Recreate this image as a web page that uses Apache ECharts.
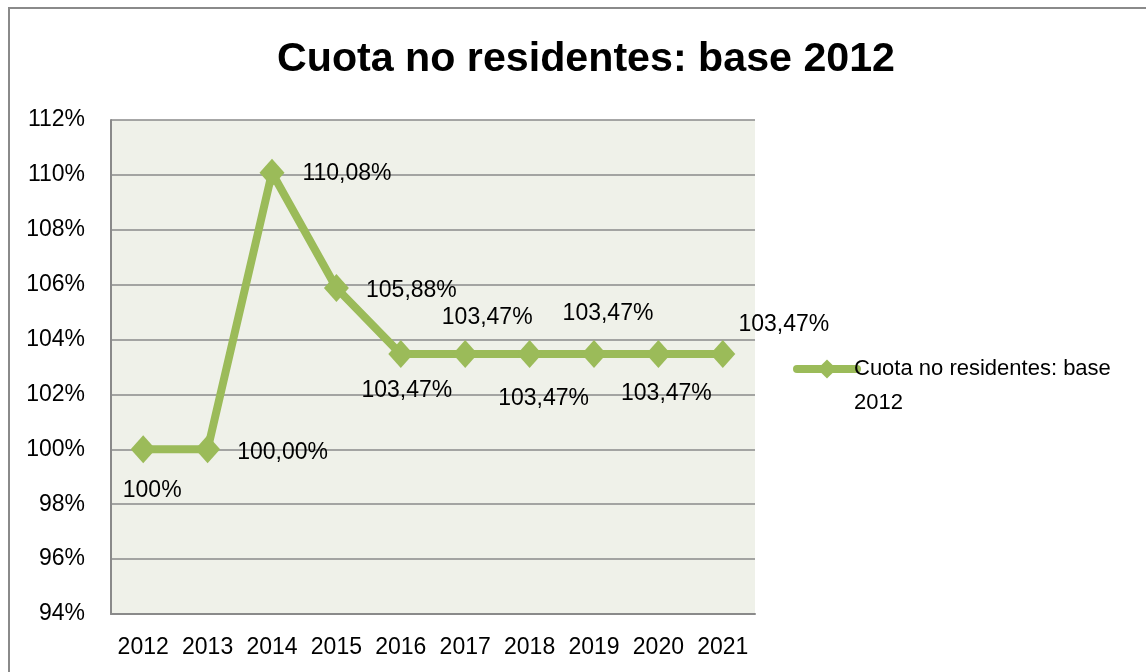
<!DOCTYPE html>
<html>
<head>
<meta charset="utf-8">
<script src="https://cdn.jsdelivr.net/npm/echarts@6/dist/echarts.min.js"></script>
<style>
html,body{margin:0;padding:0;background:#fff;}
#chart{width:1146px;height:672px;}
</style>
</head>
<body>
<div id="chart"></div>
<script>
const titleText = 'Cuota no residentes: base 2012';
const seriesName = 'Cuota no residentes: base 2012';
const legendLine1 = 'Cuota no residentes: base';
const legendLine2 = '2012';
const years = ['2012','2013','2014','2015','2016','2017','2018','2019','2020','2021'];
const values = [100, 100, 110.08, 105.88, 103.47, 103.47, 103.47, 103.47, 103.47, 103.47];
const labelTexts = ['100%','100,00%','110,08%','105,88%','103,47%','103,47%','103,47%','103,47%','103,47%','103,47%'];
const yTickMin = 94, yTickMax = 112, yTickStep = 2;

// label placement offsets (style only)
const labelOffsets = [[9,41],[75,3],[75,1],[75,3],[6,37],[22,-36],[14,45],[14,-40],[8,40],[61,-29]];

const FONT = '"Liberation Sans", Arial, sans-serif';
const GREEN = '#9bbb59';

const chart = echarts.init(document.getElementById('chart'));
chart.setOption({
  animation: false,
  backgroundColor: '#ffffff',
  textStyle: { fontFamily: FONT },
  graphic: [{
    type: 'rect',
    shape: { x: 9, y: 8, width: 1200, height: 720 },
    style: { fill: 'none', stroke: '#8a8a8a', lineWidth: 2 },
    silent: true
  }, {
    type: 'text',
    left: 854, top: 392,
    style: { text: legendLine2, fontFamily: FONT, fontSize: 22, fill: '#000' },
    silent: true
  }],
  title: {
    text: titleText,
    left: 581, top: 34,
    textAlign: 'center',
    textStyle: { fontFamily: FONT, fontSize: 41.2, fontWeight: 'bold', color: '#000' }
  },
  legend: {
    left: 788, top: 352,
    orient: 'vertical',
    itemWidth: 60, itemHeight: 24, itemGap: 0,
    data: [seriesName],
    lineStyle: { width: 8, cap: 'round', color: GREEN },
    formatter: function () { return legendLine1; },
    textStyle: { fontFamily: FONT, fontSize: 22, color: '#000', lineHeight: 24, padding: [0,0,0,-8] }
  },
  grid: {
    left: 111, top: 120, width: 644, height: 494,
    show: true, backgroundColor: '#eff1e9', borderWidth: 0, containLabel: false
  },
  xAxis: {
    type: 'category',
    data: years,
    boundaryGap: true,
    axisLine: { show: true, lineStyle: { color: '#8a8a8a', width: 2 } },
    axisTick: { show: false },
    axisLabel: { interval: 0, margin: 22, fontSize: 23, fontFamily: FONT, color: '#000' },
    splitLine: { show: false }
  },
  yAxis: {
    type: 'value',
    min: yTickMin, max: yTickMax, interval: yTickStep,
    axisLine: { show: true, lineStyle: { color: '#8a8a8a', width: 2 } },
    axisTick: { show: false },
    axisLabel: { margin: 26, fontSize: 23, fontFamily: FONT, color: '#000', formatter: v => v + '%' },
    splitLine: { show: true, lineStyle: { color: '#8a8a8a', width: 1.5 } }
  },
  series: [{
    name: seriesName,
    type: 'line',
    data: values.map((v, i) => ({
      value: v,
      label: {
        show: true,
        position: 'inside',
        offset: labelOffsets[i],
        formatter: labelTexts[i]
      }
    })),
    symbol: 'diamond',
    symbolSize: [25, 28],
    itemStyle: { color: GREEN },
    lineStyle: { color: GREEN, width: 8 },
    label: {
      show: true,
      fontFamily: FONT, fontSize: 23, color: '#000',
      align: 'center', verticalAlign: 'middle'
    },
    z: 3
  }]
});
</script>
</body>
</html>
